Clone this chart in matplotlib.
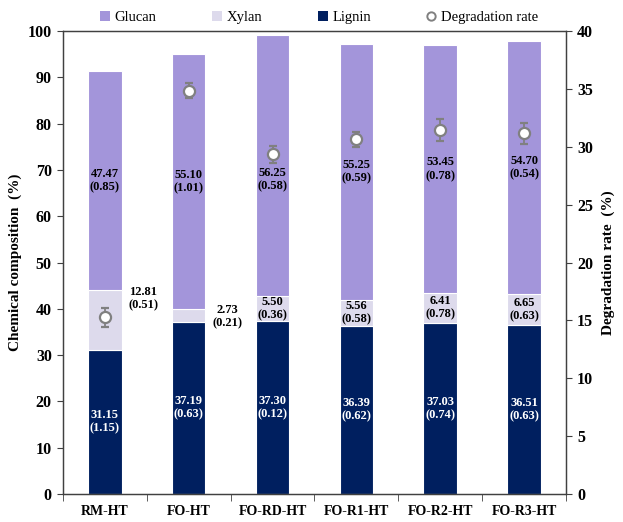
import matplotlib
matplotlib.use("Agg")
import matplotlib.pyplot as plt
from matplotlib.patches import Patch
from matplotlib.lines import Line2D
import numpy as np

plt.rcParams['font.family'] = ['Liberation Serif', 'DejaVu Serif']

samples = ["RM-HT", "FO-HT", "FO-RD-HT", "FO-R1-HT", "FO-R2-HT", "FO-R3-HT"]
lignin = [31.15, 37.19, 37.30, 36.39, 37.03, 36.51]
lignin_sd = [1.15, 0.63, 0.12, 0.62, 0.74, 0.63]
xylan = [12.81, 2.73, 5.50, 5.56, 6.41, 6.65]
xylan_sd = [0.51, 0.21, 0.36, 0.58, 0.78, 0.63]
glucan = [47.47, 55.10, 56.25, 55.25, 53.45, 54.70]
glucan_sd = [0.85, 1.01, 0.58, 0.59, 0.78, 0.54]
degradation = [15.25, 34.85, 29.35, 30.65, 31.45, 31.15]
degradation_err = [0.8, 0.65, 0.75, 0.65, 0.95, 0.9]

c_glucan = "#A395DA"
c_xylan = "#DDDAEC"
c_lignin = "#001F5F"
c_axis = "#404040"
c_marker = "#808080"

fig = plt.figure(figsize=(6.23, 5.22), dpi=100)
ax = fig.add_axes([0.101, 0.0536, 0.8075, 0.887])
ax2 = ax.twinx()

x = np.arange(len(samples))
w = 0.4
lig = np.array(lignin)
xyl = np.array(xylan)
glu = np.array(glucan)

ax.bar(x, lig, w, color=c_lignin, edgecolor="white", linewidth=0.8, zorder=2)
ax.bar(x, xyl, w, bottom=lig, color=c_xylan, edgecolor="white", linewidth=0.8, zorder=2)
ax.bar(x, glu, w, bottom=lig + xyl, color=c_glucan, edgecolor="white", linewidth=0.8, zorder=2)

# ratio between the left (composition) and right (degradation) scales
scale = 100 / 40

lab_kw = dict(ha="center", va="center", fontsize=9, fontweight="bold",
              linespacing=1.15, zorder=4)
for i in range(len(samples)):
    ax.text(x[i], lig[i] / 2, f"{lignin[i]:.2f}\n({lignin_sd[i]:.2f})",
            color="white", **lab_kw)

    # glucan label, nudged below the degradation marker when they would collide
    gy = lig[i] + xyl[i] + glu[i] / 2
    marker_y = degradation[i] * scale
    if abs(marker_y - gy) < 4:
        gy = marker_y - 5.5
    ax.text(x[i], gy, f"{glucan[i]:.2f}\n({glucan_sd[i]:.2f})", color="black", **lab_kw)

    # xylan label: beside the bar for the first two samples, inside otherwise
    xtxt = f"{xylan[i]:.2f}\n({xylan_sd[i]:.2f})"
    if i < 2:
        ax.text(x[i] + 0.46, lig[i] + xyl[i] - 1.7, xtxt, color="black", **lab_kw)
    else:
        ax.text(x[i], lig[i] + xyl[i] / 2, xtxt, color="black", **lab_kw)

ax2.errorbar(x, degradation, yerr=degradation_err, fmt="o", ms=8,
             mfc="white", mec=c_marker, mew=1.6, ecolor=c_marker,
             elinewidth=1.3, capsize=3, capthick=1.3, zorder=5)

ax.set_xlim(-0.5, len(samples) - 0.5)
ax.set_ylim(0, 100)
ax2.set_ylim(0, 40)
ax.set_yticks(np.arange(0, 101, 10))
ax2.set_yticks(np.arange(0, 41, 5))

ax.set_xticks(x)
ax.set_xticklabels(samples, fontsize=10, fontweight="bold")
ax.set_xticks(np.arange(-0.5, len(samples), 1.0), minor=True)
ax.tick_params(axis="x", which="major", length=0, pad=8)
ax.tick_params(axis="x", which="minor", length=5, color=c_axis, direction="out")
ax.tick_params(axis="y", length=4, color=c_axis, direction="out", labelsize=11.5, pad=4)
ax2.tick_params(axis="y", length=4, color=c_axis, direction="out", labelsize=11.5, pad=4)
for lbl in ax.get_yticklabels() + ax2.get_yticklabels():
    lbl.set_fontweight("bold")

for a in (ax, ax2):
    for s in a.spines.values():
        s.set_color(c_axis)
        s.set_linewidth(0.9)

ax.set_ylabel("Chemical composition  (%)", fontsize=11, fontweight="bold", labelpad=4)
ax2.set_ylabel("Degradation rate  (%)", fontsize=11, fontweight="bold", labelpad=6)

handles = [
    Patch(facecolor=c_glucan, edgecolor="none"),
    Patch(facecolor=c_xylan, edgecolor="none"),
    Patch(facecolor=c_lignin, edgecolor="none"),
    Line2D([], [], ls="none", marker="o", ms=6, mfc="white", mec=c_marker, mew=1.4),
]
fig.legend(handles, ["Glucan", "Xylan", "Lignin", "Degradation rate"],
           loc="center", bbox_to_anchor=(0.512, 0.966), ncol=4, frameon=False,
           fontsize=10.5, handlelength=0.7, handleheight=0.7, handletextpad=0.3,
           columnspacing=3.8)

fig.savefig("out.png", dpi=100)
